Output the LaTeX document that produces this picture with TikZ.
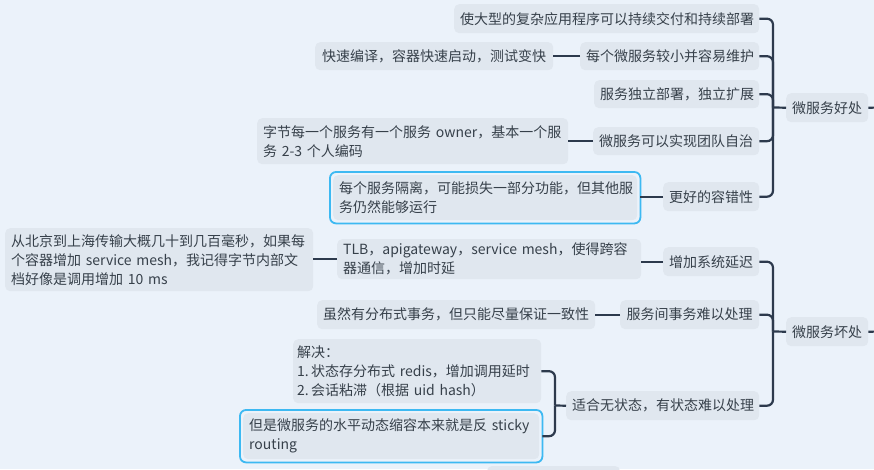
\documentclass[tikz,border=0pt]{standalone}
\usepackage{fontspec}
\setmainfont{Noto Sans CJK SC}
\definecolor{bgcol}{HTML}{EBF2FA}
\definecolor{nodefill}{HTML}{E0E7EF}
\definecolor{txtcol}{HTML}{36404A}
\definecolor{conncol}{HTML}{2D3A4D}
\definecolor{hlcol}{HTML}{3DB9F2}
\tikzset{
  box/.style={fill=nodefill, rounded corners=5pt, inner xsep=6pt, inner ysep=1pt,
    anchor=north west, text=txtcol, font=\fontsize{14}{19}\selectfont, align=left},
  conn/.style={draw=conncol, line width=2.2pt},
  bracket/.style={conn, rounded corners=6pt},
  hlframe/.style={draw=hlcol, line width=1.8pt, rounded corners=6pt}
}
\begin{document}
\hyphenpenalty=10000
\exhyphenpenalty=10000
\begin{tikzpicture}[x=1pt,y=-1pt]
\useasboundingbox (0,0) rectangle (874,469);
\fill[bgcol] (0,0) rectangle (874,469);

% ---------- group 1 ----------
\node[box, text width=70pt, minimum height=29pt, align=center] (p1) at (786,93) {微服务好处};
\node[box, text width=293pt, minimum height=29pt, align=center] (a1) at (454,4) {使大型的复杂应用程序可以持续交付和持续部署};
\node[box, text width=167pt, minimum height=28pt, align=center] (a2) at (580,42) {每个微服务较小并容易维护};
\node[box, text width=226pt, minimum height=28pt, align=center] (a2b) at (315,42) {快速编译，容器快速启动，测试变快};
\node[box, text width=153pt, minimum height=28pt, align=center] (a3) at (594,80) {服务独立部署，独立扩展};
\node[box, text width=154pt, minimum height=28pt, align=center] (a4) at (593,127) {微服务可以实现团队自治};
\node[box, text width=299pt, minimum height=46pt] (a4b) at (257,118) {字节每一个服务有一个服务 owner，基本一个服\\务 2-3 个人编码};
\node[box, text width=84pt, minimum height=29pt, align=center] (a5) at (663,182) {更好的容错性};
\node[box, text width=292pt, minimum height=45pt] (a5b) at (333,175) {每个服务隔离，可能损失一部分功能，但其他服\\务仍然能够运行};
\draw[hlframe] ([shift={(-3pt,3pt)}]a5b.north west) rectangle ([shift={(3pt,-3pt)}]a5b.south east);

\coordinate (t1) at (773,107.5);
\draw[bracket] (a1.east) -- (a1.east -| t1) -- (t1);
\draw[bracket] (a2.east) -- (a2.east -| t1) -- (t1);
\draw[bracket] (a3.east) -- (a3.east -| t1) -- (t1);
\draw[bracket] (a4.east) -- (a4.east -| t1) -- (t1);
\draw[bracket] (a5.east) -- (a5.east -| t1) -- (t1);
\draw[conn] (t1) -- (p1.west);
\coordinate (r1) at (884,107.5);
\draw[conn] (p1.east) -- (r1);
\draw[conn] (a2.west) -- (a2.west -| a2b.east);
\draw[conn] (a4.west) -- (a4.west -| a4b.east);
\draw[conn] (a5.west) -- ([xshift=3pt]a5.west -| a5b.east);

% ---------- group 2 ----------
\node[box, text width=70pt, minimum height=29pt, align=center] (p2) at (786,317) {微服务坏处};
\node[box, text width=84pt, minimum height=29pt, align=center] (b1) at (663,247) {增加系统延迟};
\node[box, text width=292pt, minimum height=40pt] (b1b) at (337,239) {TLB，apigateway，service mesh，使得跨容\\器通信，增加时延};
\node[box, text width=296pt, minimum height=63pt] (b1c) at (5,228) {从北京到上海传输大概几十到几百毫秒，如果每\\个容器增加 service mesh，我记得字节内部文\\档好像是调用增加 10 ms};
\node[box, text width=127pt, minimum height=29pt, align=center] (b2) at (620,300) {服务间事务难以处理};
\node[box, text width=266pt, minimum height=29pt, align=center] (b2b) at (317,300) {虽然有分布式事务，但只能尽量保证一致性};
\node[box, text width=181pt, minimum height=29pt, align=center] (b3) at (566,391) {适合无状态，有状态难以处理};
\node[box, inner xsep=4pt, text width=240pt, minimum height=64pt] (b3a) at (293,339) {解决：\\1.\,状态存分布式 redis，增加调用延时\\2.\,会话粘滞（根据 uid hash）};
\node[box, text width=284pt, minimum height=46pt] (b3b) at (243,413) {但是微服务的水平动态缩容本来就是反 sticky\\routing};
\draw[hlframe] ([shift={(-3pt,3pt)}]b3b.north west) rectangle ([shift={(3pt,-3pt)}]b3b.south east);

\coordinate (t3) at (555,405.5);
\coordinate (t2) at (773,331.5);
\draw[bracket] (b1.east) -- (b1.east -| t2) -- (t2);
\draw[bracket] (b2.east) -- (b2.east -| t2) -- (t2);
\draw[bracket] (b3.east) -- (b3.east -| t2) -- (t2);
\draw[conn] (t2) -- (p2.west);
\coordinate (r2) at (884,331.5);
\draw[conn] (p2.east) -- (r2);
\draw[conn] (b1.west) -- (b1.west -| b1b.east);
\draw[conn] (b1b.west) -- (b1b.west -| b1c.east);
\draw[conn] (b2.west) -- (b2.west -| b2b.east);

\draw[bracket] (b3a.east) -- (b3a.east -| t3) -- (t3);
\draw[bracket] ([xshift=3pt]b3b.east) -- (b3b.east -| t3) -- (t3);
\draw[conn] (t3) -- (b3.west);

% partially visible box at the bottom edge
\fill[nodefill, rounded corners=5pt] (487,466) rectangle (620,496);
\end{tikzpicture}
\end{document}
